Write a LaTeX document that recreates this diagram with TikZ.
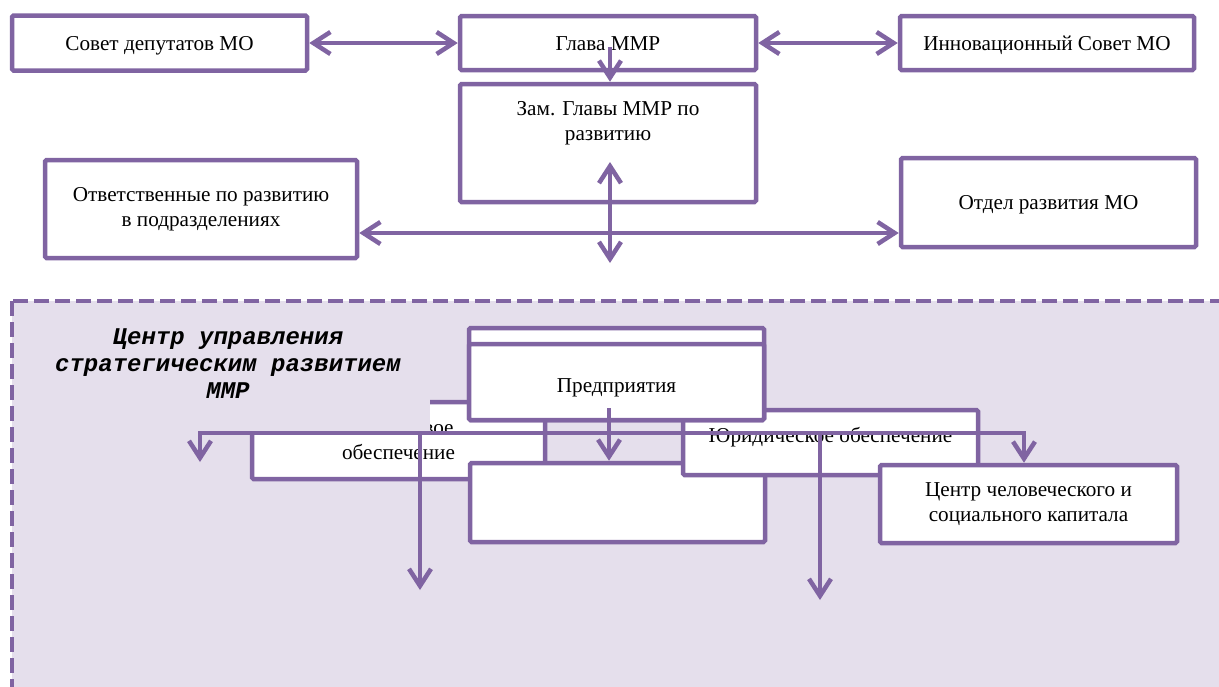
\documentclass[tikz,border=0pt]{standalone}
\usepackage{fontspec}
\setmainfont{Liberation Serif}
\newfontfamily\monofam{Liberation Mono}
\usetikzlibrary{arrows.meta,positioning}

\definecolor{vlila}{HTML}{8064A2}
\definecolor{lilabg}{HTML}{E5DFEC}

\newcommand{\boxtext}{\fontsize{21.2pt}{25pt}\selectfont}
\newcommand{\titletext}{\monofam\bfseries\itshape\fontsize{24pt}{27pt}\selectfont}

\tikzset{
    box/.style={draw=vlila, line width=4.5pt, fill=white, rounded corners=1.5pt,
        inner sep=0pt, align=center, font=\boxtext},
    oneline/.style={text height=18pt, text depth=4pt},
    conn/.style={draw=vlila, line width=4.5pt},
    region/.style={fill=lilabg, draw=vlila, line width=4.5pt, dash pattern=on 15pt off 6pt},
    title/.style={font=\titletext, align=center, inner sep=0pt}
}

\begin{document}
\begin{tikzpicture}[x=1pt, y=-1pt, >={Straight Barb[length=17pt,width=22pt]}]
    \useasboundingbox (0,0) rectangle (1219,686);
    \clip (0,0) rectangle (1219,686);

    % Top row
    \node[box, oneline, minimum width=295pt, minimum height=55pt] (sovet) at (159.5,43) {Совет депутатов МО};
    \node[box, oneline, minimum width=296pt, minimum height=54pt] (glava) at (608,43) {Глава ММР};
    \node[box, oneline, minimum width=294pt, minimum height=54pt] (innov) at (1047,43) {Инновационный Совет МО};

    % Deputy and development units
    \node[box, minimum width=296pt, minimum height=118pt] (zam) at (608,143) {};
    \node[font=\boxtext, align=center, inner sep=0pt, below=19pt of zam.north] (zamtext) {Зам. Главы ММР по\\развитию};
    \node[box, minimum width=312pt, minimum height=98pt] (otv) at (201,209) {Ответственные по развитию\\в подразделениях};
    \node[box, oneline, minimum width=295pt, minimum height=89pt] (otdel) at (1048.5,202.5) {Отдел развития МО};

    % Top connectors
    \coordinate (zamtop) at (610,47);
    \coordinate (vup) at (610,162);
    \coordinate (vdown) at (610,263);
    \coordinate (hline) at (610,233);
    \draw[conn, <->] (sovet.east) -- (glava.west);
    \draw[conn, <->] (glava.east) -- (innov.west);
    \draw[conn, ->] (zamtop) -- (zamtop |- zam.north);
    \draw[conn, <->] (vup) -- (vdown);
    \draw[conn, <->] (otv.east |- hline) -- (otdel.west |- hline);

    % Centre region
    \draw[region] (12,301) rectangle (1260,720);

    % Lower boxes (overlapping)
    \node[box, minimum width=293pt, minimum height=77pt] (finance) at (398.5,440.5) {Финансовое\\обеспечение};
    \fill[lilabg] (30,315) rectangle (430,431);
    \node[title] (centre) at (228,364) {Центр управления\\стратегическим развитием\\ММР};
    \node[box, minimum width=295pt, minimum height=79pt] (blank) at (617.5,502.5) {};
    \node[box, minimum width=295pt, minimum height=65pt, text height=15pt, text depth=16pt] (legal) at (830.5,442.5) {Юридическое обеспечение};
    \node[box, minimum width=295pt, minimum height=92pt] (enterback) at (616.5,374) {};
    \node[box, minimum width=295pt, minimum height=76pt, text height=22pt, text depth=2pt] (enterprise) at (616.5,382) {Предприятия};
    \node[box, minimum width=297pt, minimum height=78pt] (capital) at (1028.5,504) {Центр человеческого и\\социального капитала};

    % Lower connectors
    \coordinate (busL) at (200,433);
    \coordinate (busR) at (1024,433);
    \coordinate (dropL) at (200,462);
    \coordinate (dropA) at (420,590);
    \coordinate (dropB) at (820,600);
    \coordinate (predout) at (609,408);
    \draw[conn, <->] (dropL) -- (busL) -- (busR) -- (busR |- capital.north);
    \foreach \d in {dropA, dropB} {
        \draw[conn, ->] (busL -| \d) -- (\d);
    }
    \draw[conn, ->] (predout) -- (predout |- blank.north);

\end{tikzpicture}
\end{document}
